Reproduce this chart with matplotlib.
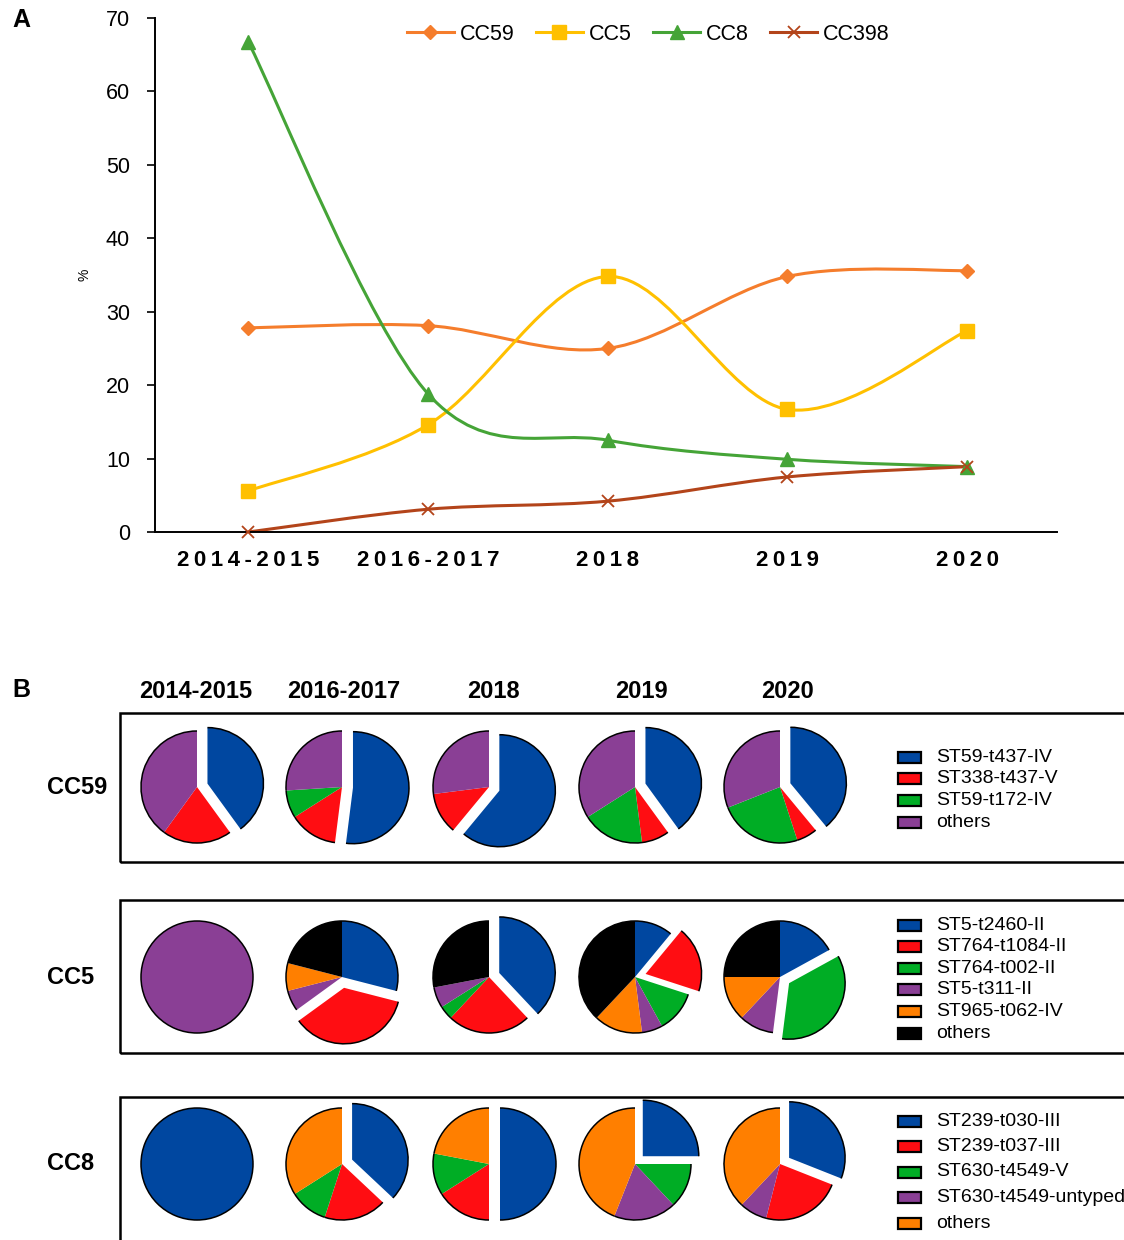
import numpy as np
import matplotlib
matplotlib.use("Agg")
import matplotlib.pyplot as plt
from matplotlib.lines import Line2D
from matplotlib.patches import Arc, PathPatch, Rectangle
from matplotlib.path import Path

plt.rcParams["font.family"] = ["Liberation Sans", "DejaVu Sans"]

# panel A: share of each clonal complex per period (%)
years = ["2014-2015", "2016-2017", "2018", "2019", "2020"]
cc59 = [27.8, 28.1, 25.0, 34.8, 35.6]
cc5 = [5.6, 14.6, 34.8, 16.7, 27.4]
cc8 = [66.7, 18.8, 12.5, 9.9, 8.9]
cc398 = [0.0, 3.1, 4.2, 7.5, 8.9]

# panel B: clone make-up inside each complex (%), one list per period
cc59_types = ["ST59-t437-IV", "ST338-t437-V", "ST59-t172-IV", "others"]
cc59_pies = [
    [40, 20, 0, 40],
    [52, 14, 8, 26],
    [61, 12, 0, 27],
    [40, 8, 18, 34],
    [39, 6, 24, 31],
]
cc5_types = ["ST5-t2460-II", "ST764-t1084-II", "ST764-t002-II",
             "ST5-t311-II", "ST965-t062-IV", "others"]
cc5_pies = [
    [0, 0, 0, 100, 0, 0],
    [29, 36, 0, 6, 8, 21],
    [38, 24, 4, 6, 0, 28],
    [11, 19, 12, 6, 14, 38],
    [17, 0, 35, 10, 13, 25],
]
cc8_types = ["ST239-t030-III", "ST239-t037-III", "ST630-t4549-V",
             "ST630-t4549-untyped", "others"]
cc8_pies = [
    [100, 0, 0, 0, 0],
    [37, 18, 11, 0, 34],
    [50, 16, 12, 0, 22],
    [25, 0, 13, 18, 44],
    [31, 23, 0, 8, 38],
]
# wedge pulled out of each pie (None = single-clone pie)
cc59_pop = [0, 0, 0, 0, 0]
cc5_pop = [None, 1, 0, 1, 2]
cc8_pop = [None, 0, 0, 0, 0]

BLUE, RED, GREEN = "#0047a0", "#ff0d12", "#00ad25"
PURPLE, ORANGE, BLACK = "#8a3f95", "#ff7f00", "#000000"

W, H = 1124, 1240
fig = plt.figure(figsize=(W / 100, H / 100), dpi=100)


def smooth_path(x, y):
    # smoothed line: cubic Bezier through every point, handles taken
    # from the neighbouring points (Catmull-Rom, factor 1/6)
    p = np.column_stack([x, y]).astype(float)
    ext = np.vstack([p[0], p, p[-1]])
    verts, codes = [p[0]], [Path.MOVETO]
    for i in range(len(p) - 1):
        c1 = p[i] + (ext[i + 2] - ext[i]) / 6
        c2 = p[i + 1] - (ext[i + 3] - ext[i + 1]) / 6
        verts += [c1, c2, p[i + 1]]
        codes += [Path.CURVE4] * 3
    return Path(verts, codes)


# ---- panel A ----
ax = fig.add_axes([155 / W, 1 - 532 / H, 902 / W, 514 / H])
xs = np.arange(len(years))
series = [("CC59", cc59, "#f57d2c", "D", 7.5, 0),
          ("CC5", cc5, "#ffc000", "s", 10, 0),
          ("CC8", cc8, "#45a437", "^", 10, 0),
          ("CC398", cc398, "#b3441a", "x", 9, 1.3)]
handles = []
for name, vals, col, mk, ms, mew in series:
    ax.add_patch(PathPatch(smooth_path(xs, vals), fill=False,
                           edgecolor=col, lw=2.2, zorder=2))
    kw = dict(mew=mew) if mew else {}
    ax.plot(xs, vals, ls="none", marker=mk, ms=ms, color=col,
            zorder=3, clip_on=False, **kw)
    handles.append(Line2D([], [], color=col, lw=2.2, marker=mk, ms=ms,
                          **kw))

ax.set_xlim(-0.52, 4.5)
ax.set_ylim(0, 70)
ax.set_yticks(range(0, 71, 10))
ax.set_xticks(xs)
ax.set_xticklabels(["\u2009".join(y) for y in years], fontweight="bold")
for s in ("top", "right"):
    ax.spines[s].set_visible(False)
for s in ("left", "bottom"):
    ax.spines[s].set_linewidth(1.4)
ax.tick_params(axis="y", direction="out", length=6, width=1.2,
               labelsize=15.5, pad=12)
ax.tick_params(axis="x", length=0, labelsize=16, pad=13)
ax.set_ylabel("%", fontsize=10)
ax.yaxis.set_label_coords(-0.07, 0.5)
ax.legend(handles, [s[0] for s in series], loc="center",
          bbox_to_anchor=(648 / W, 1 - 34 / H),
          bbox_transform=fig.transFigure, ncol=4, frameon=False,
          fontsize=15.5, handlelength=2.2, handletextpad=0.25,
          columnspacing=1.0, numpoints=1)

fig.text(21 / W, 1 - 20 / H, "A", fontsize=18, fontweight="bold",
         ha="center", va="center")
fig.text(21 / W, 1 - 690 / H, "B", fontsize=18, fontweight="bold",
         ha="center", va="center")

# ---- panel B: pixel-unit overlay, y measured upward ----
bx = fig.add_axes([0, 0, 1, 1])
bx.patch.set_visible(False)


def Y(y):
    return H - y


R = 56
pie_x = [197, 342, 489, 635, 780]
head_x = [196, 344, 493, 641, 788]


def draw_pie(vals, colors, cx, cy, pop):
    explode = np.zeros(len(vals))
    if pop is not None:
        explode[pop] = 11
    wedges, _ = bx.pie(vals, colors=colors, startangle=90,
                       counterclock=False, center=(cx, cy), radius=R,
                       explode=explode, wedgeprops=dict(linewidth=0))
    for w in wedges:
        if w.theta2 - w.theta1 > 0:
            bx.add_patch(Arc(w.center, 2 * w.r, 2 * w.r,
                             theta1=w.theta1, theta2=w.theta2,
                             color="black", lw=1.1, zorder=3))


def draw_key(names, colors, top, step):
    for k, (nm, col) in enumerate(zip(names, colors)):
        yy = Y(top + k * step)
        bx.add_patch(Rectangle((898, yy - 5.5), 23, 11, fc=col,
                               ec="black", lw=1.6))
        bx.text(936, yy, nm, fontsize=14, ha="left", va="center")


rows = [("CC59", cc59_pies, cc59_pop, cc59_types,
         [BLUE, RED, GREEN, PURPLE], 787, (713, 862), 757, 21.8),
        ("CC5", cc5_pies, cc5_pop, cc5_types,
         [BLUE, RED, GREEN, PURPLE, ORANGE, BLACK], 977, (900, 1053),
         925, 21.6),
        ("CC8", cc8_pies, cc8_pop, cc8_types,
         [BLUE, RED, GREEN, PURPLE, ORANGE], 1164, (1097, 1320),
         1121, 25.5)]

for label, pies, pops, names, colors, cy, (top, bot), ktop, kstep in rows:
    bx.add_patch(Rectangle((120, Y(bot)), 1100, bot - top, fill=False,
                           ec="black", lw=1.8))
    bx.text(47, Y(cy), label, fontsize=17, fontweight="bold",
            ha="left", va="center")
    for cx, vals, pop in zip(pie_x, pies, pops):
        draw_pie(vals, colors, cx, Y(cy), pop)
    draw_key(names, colors, ktop, kstep)

for hx, yr in zip(head_x, years):
    bx.text(hx, Y(692), yr, fontsize=17, fontweight="bold",
            ha="center", va="center")

bx.set_xlim(0, W)
bx.set_ylim(0, H)
bx.set_aspect("auto")
bx.axis("off")

fig.savefig("out.png", dpi=100)
